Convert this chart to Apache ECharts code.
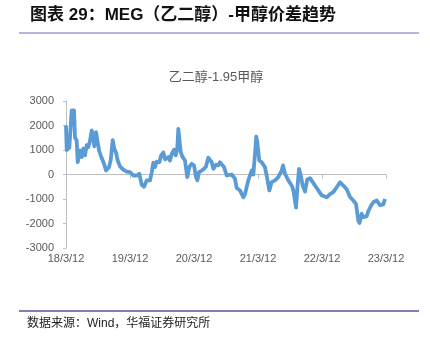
<!DOCTYPE html>
<html lang="zh">
<head>
    <meta charset="UTF-8">
    <script src="https://cdn.jsdelivr.net/npm/echarts@6/dist/echarts.min.js"></script>
    <title>MEG-甲醇价差趋势</title>
    <style>
        html, body { margin: 0; padding: 0; background: #ffffff; }
        #chart { width: 430px; height: 352px; }
    </style>
</head>
<body>
<div id="chart"></div>

<script>
    // x = years since 18/3/12
    const xYears = [
        0, 0.011, 0.052, 0.089, 0.125, 0.141, 0.167, 0.183, 0.219, 0.245,
        0.270, 0.297, 0.323, 0.348, 0.375, 0.402, 0.417, 0.442, 0.469, 0.489,
        0.516, 0.542, 0.567, 0.594, 0.625, 0.645, 0.672, 0.698, 0.730, 0.755,
        0.781, 0.808, 0.844, 0.895, 0.948, 1.000, 1.052, 1.105, 1.145, 1.183,
        1.219, 1.261, 1.313, 1.339, 1.364, 1.391, 1.417, 1.458, 1.484, 1.520,
        1.547, 1.573, 1.598, 1.625, 1.652, 1.688, 1.714, 1.739, 1.755, 1.770,
        1.792, 1.823, 1.859, 1.895, 1.927, 1.964, 2.000, 2.027, 2.052, 2.078,
        2.120, 2.156, 2.188, 2.223, 2.277, 2.302, 2.344, 2.380, 2.406, 2.469,
        2.511, 2.536, 2.589, 2.641, 2.667, 2.719, 2.770, 2.797, 2.848, 2.902,
        2.927, 2.953, 2.973, 2.989, 3.020, 3.058, 3.109, 3.145, 3.177, 3.214,
        3.266, 3.317, 3.370, 3.391, 3.422, 3.473, 3.527, 3.552, 3.578, 3.594,
        3.614, 3.641, 3.672, 3.698, 3.734, 3.770, 3.813, 3.839, 3.917, 3.995,
        4.073, 4.125, 4.177, 4.230, 4.281, 4.333, 4.386, 4.438, 4.489, 4.531,
        4.567, 4.586, 4.620, 4.645, 4.698, 4.723, 4.761, 4.802, 4.828, 4.855,
        4.906, 4.933, 4.958, 4.984
    ];
    const spread = [
        2000, 1000, 1100, 2620, 2620, 1500, 1390, 500, 980, 710,
        1060, 780, 1200, 1110, 1380, 1800, 1660, 1150, 1730, 1760,
        980, 780, 840, 440, 160, 100, 300, 570, 1400, 1050,
        900, 570, 330, 200, 120, 100, -40, -40, 30, -420,
        -500, -240, -240, 80, 480, 300, 520, 500, 760, 900,
        620, 570, 710, 570, 840, 1010, 780, 1090, 1860, 1900,
        910, 710, 570, -110, 300, 440, 370, -40, -240, 100,
        160, 230, 330, 690, 500, 230, 400, 370, 500, 300,
        -40, 30, 0, -180, -550, -650, -930, -800, -240, 160,
        0, 840, 1550, 1320, 570, 500, 300, -180, -650, -310,
        -240, -110, 160, 370, 30, -240, -450, -650, -600, -1350,
        -600, 230, -80, -450, -700, -200, -150, -250, -550, -850,
        -930, -800, -720, -520, -320, -450, -600, -920, -1060, -1200,
        -1880, -1980, -1600, -1740, -1700, -1500, -1300, -1130, -1150, -1060,
        -1250, -1200, -1220, -1000
    ];
    const xTickLabels = ['18/3/12', '19/3/12', '20/3/12', '21/3/12', '22/3/12', '23/3/12'];
    const yTicks = [-3000, -2000, -1000, 0, 1000, 2000, 3000];

    const chart = echarts.init(document.getElementById('chart'));

    const option = {
        animation: false,
        title: {
            text: '乙二醇-1.95甲醇',
            left: 211,
            top: 66,
            textAlign: 'center',
            textStyle: {
                color: '#595959',
                fontSize: 13,
                fontWeight: 'normal',
                fontFamily: 'Liberation Sans, Noto Sans CJK SC, sans-serif'
            }
        },
        graphic: [
            {
                type: 'text',
                left: 30,
                top: 7,
                style: {
                    text: '图表 29：MEG（乙二醇）-甲醇价差趋势',
                    fill: '#111111',
                    font: 'bold 17px "Liberation Sans", "Noto Sans CJK SC", sans-serif'
                }
            },
            {
                type: 'line',
                shape: { x1: 19, y1: 33, x2: 419, y2: 33 },
                style: { stroke: '#9c9cd2', lineWidth: 1.5 }
            },
            {
                type: 'line',
                shape: { x1: 19, y1: 311, x2: 419, y2: 311 },
                style: { stroke: '#55559a', lineWidth: 1.5 }
            },
            {
                type: 'text',
                left: 27,
                top: 318,
                style: {
                    text: '数据来源：Wind，华福证券研究所',
                    fill: '#222222',
                    font: '12px "Liberation Sans", "Noto Sans CJK SC", sans-serif'
                }
            }
        ],
        grid: {
            left: 66,
            right: 44,
            top: 101,
            bottom: 104
        },
        xAxis: {
            type: 'value',
            min: 0,
            max: 5,
            interval: 1,
            axisLine: {
                onZero: true,
                lineStyle: { color: '#bfbfbf', width: 1 }
            },
            axisTick: {
                show: true,
                length: 4,
                lineStyle: { color: '#bfbfbf' }
            },
            axisLabel: {
                color: '#595959',
                fontSize: 11,
                margin: 5,
                fontFamily: 'Liberation Sans, sans-serif',
                formatter: v => xTickLabels[Math.round(v)]
            },
            splitLine: { show: false }
        },
        yAxis: {
            type: 'value',
            min: yTicks[0],
            max: yTicks[yTicks.length - 1],
            interval: 1000,
            axisLine: {
                show: true,
                lineStyle: { color: '#bfbfbf', width: 1 }
            },
            axisTick: {
                show: true,
                length: 3,
                lineStyle: { color: '#bfbfbf' }
            },
            axisLabel: {
                color: '#595959',
                fontSize: 11,
                margin: 12,
                fontFamily: 'Liberation Sans, sans-serif',
                formatter: v => String(v)
            },
            splitLine: { show: false }
        },
        series: [{
            type: 'line',
            data: xYears.map((x, i) => [x, spread[i]]),
            showSymbol: false,
            smooth: false,
            lineStyle: { color: '#5b9bd5', width: 3.8, join: 'round' },
            itemStyle: { color: '#5b9bd5' }
        }]
    };

    chart.setOption(option);
</script>
</body>
</html>
